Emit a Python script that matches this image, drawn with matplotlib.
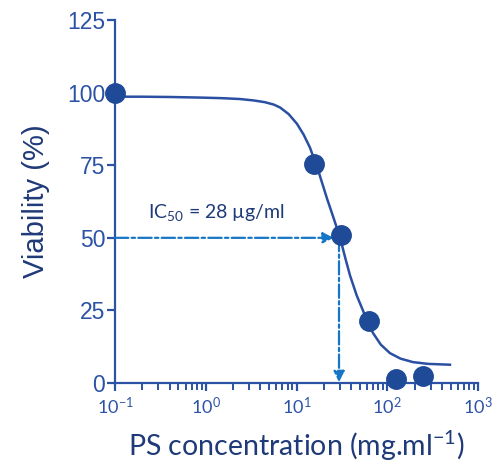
import numpy as np
import matplotlib
matplotlib.use("Agg")
import matplotlib.pyplot as plt
from matplotlib.ticker import LogLocator, NullFormatter

# measured points
conc = [0.1, 15.6, 31.25, 62.5, 125, 250]
viability = [100, 75.3, 51, 21.5, 1.4, 2.4]

# fitted curve
curve_x = [0.1, 0.2, 0.4, 0.865, 1.5, 2.38, 3.4, 4.5, 5.6, 6.58, 8.2, 10.1, 12.0, 14.1,
           17.5, 21.7, 25.5, 30.1, 34.5, 38.9, 46.0, 54.1, 61.0, 69.7, 85.0, 107, 140,
           192, 280, 491]
curve_y = [98.6, 98.6, 98.5, 98.3, 98.1, 97.8, 97.3, 96.7, 95.9, 94.9, 92.6, 89.3, 85.5, 81.0,
           72.8, 63.5, 57.0, 50.2, 43.0, 37.0, 30.2, 24.9, 20.8, 17.2, 13.2, 10.3, 8.4,
           7.2, 6.6, 6.3]

ic50 = 28
ic50_label = "IC$_{\\mathdefault{50}}$ = 28 \u00b5g/ml"

dark = "#1f4a98"
axis_col = "#2c52a6"
arrow_col = "#1777c6"
text_col = "#1f3a78"

fig = plt.figure(figsize=(4.97, 4.65), dpi=100)
ax = fig.add_axes([0.2314, 0.1763, 0.7304, 0.7806])

ax.plot(curve_x, curve_y, color="#2a4fa3", lw=1.8, zorder=3)
ax.plot(conc, viability, "o", ms=14, color=dark, zorder=5, clip_on=False)

# IC50 guide lines
ax.annotate("", xy=(ic50 * 0.92, 50), xytext=(0.1, 50),
            arrowprops=dict(arrowstyle="-|>", color=arrow_col, lw=1.6,
                            linestyle=(0, (6, 1.5, 1.5, 1.5)), mutation_scale=16,
                            shrinkA=0, shrinkB=0), zorder=4)
ax.annotate("", xy=(ic50 * 1.05, 0.3), xytext=(ic50 * 1.05, 50),
            arrowprops=dict(arrowstyle="-|>", color=arrow_col, lw=1.6,
                            linestyle=(0, (6, 1.5, 1.5, 1.5)), mutation_scale=16,
                            shrinkA=0, shrinkB=0), zorder=4)
ax.text(0.23, 58.5, ic50_label, fontsize=14, family="Lato", color=text_col,
        va="center", ha="left")

ax.set_xscale("log")
ax.set_xlim(0.1, 1000)
ax.set_ylim(0, 125)
ax.set_yticks([0, 25, 50, 75, 100, 125])
ax.xaxis.set_major_locator(LogLocator(base=10, numticks=10))
ax.xaxis.set_minor_locator(LogLocator(base=10, subs=np.arange(2, 10), numticks=20))
ax.xaxis.set_minor_formatter(NullFormatter())

for s in ["top", "right"]:
    ax.spines[s].set_visible(False)
for s in ["left", "bottom"]:
    ax.spines[s].set_color(axis_col)
    ax.spines[s].set_linewidth(1.6)

ax.tick_params(axis="y", which="major", length=6, width=1.6, color=axis_col,
               labelcolor=axis_col, labelsize=16.5, pad=1)
ax.tick_params(axis="x", which="major", length=6, width=1.6, color=axis_col,
               labelcolor=axis_col, labelsize=13, pad=3)
ax.tick_params(axis="x", which="minor", length=5, width=1.4, color=axis_col)
for lab in ax.get_yticklabels():
    lab.set_family("Liberation Sans")
for lab in ax.get_xticklabels():
    lab.set_family("Lato")

ax.set_ylabel("Viability (%)", fontsize=21, family="Liberation Sans", color=text_col,
              labelpad=12)
ax.set_xlabel("PS concentration (mg.ml$^{\\mathdefault{-1}}$)", fontsize=20.5,
              family="Lato", color=text_col, labelpad=8)

fig.savefig("out.png", dpi=100)
